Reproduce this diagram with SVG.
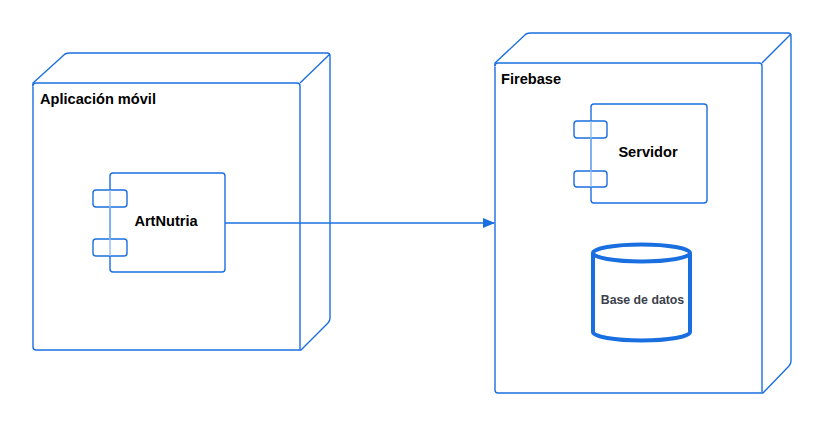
<svg xmlns="http://www.w3.org/2000/svg" width="824" height="427" viewBox="0 0 824 427">
<defs>
<style>
.ln{fill:#fff;stroke:#1a6fe0;stroke-width:1.4;stroke-linejoin:round}
.lbl{font-family:"Liberation Sans",Arial,sans-serif;font-weight:bold;font-size:14.6px;fill:#000}
.db{fill:#fff;stroke:#1a6fe0;stroke-width:4}
</style>
<marker id="ah" markerWidth="12" markerHeight="10" refX="11" refY="5" orient="auto" markerUnits="userSpaceOnUse">
<path d="M0,0 L12,5 L0,10 Z" fill="#1a6fe0"/>
</marker>
</defs>
<g id="node-app">
<path class="ln" d="M33,83 L65,54 Q67,53 70,53 L327,53 Q330,53 330,56 L330,318 Q330,321 328,323 L301,350 L36,350 Q33,350 33,347 Z"/>
<path class="ln" d="M33,86 Q33,83 36,83 L297,83 Q300,83 300,86 L300,350 M300,83 L330,54" fill="none"/>
<text class="lbl" x="40" y="104">Aplicación móvil</text>
</g>
<g id="node-firebase">
<path class="ln" d="M495,63 L526,34 Q528,33 531,33 L788,33 Q791,33 791,36 L791,361 Q791,364 789,366 L763,393 L498,393 Q495,393 495,390 Z"/>
<path class="ln" d="M495,66 Q495,63 498,63 L759,63 Q762,63 762,66 L762,393 M762,63 L791,34" fill="none"/>
<text class="lbl" x="501" y="84">Firebase</text>
</g>
<g id="comp-artnutria">
<rect class="ln" x="110" y="173" width="115" height="99" rx="3"/>
<rect class="ln" x="93" y="190" width="34" height="17" rx="3"/>
<rect class="ln" x="93" y="239" width="34" height="17" rx="3"/>
<line x1="110" y1="190" x2="110" y2="256" stroke="#8fbcf2" stroke-width="1.4"/>
<text class="lbl" x="166" y="226" text-anchor="middle">ArtNutria</text>
</g>
<g id="comp-servidor">
<rect class="ln" x="591" y="104" width="116" height="99" rx="3"/>
<rect class="ln" x="574" y="121" width="33" height="17" rx="3"/>
<rect class="ln" x="574" y="171" width="33" height="16" rx="3"/>
<line x1="591" y1="121" x2="591" y2="187" stroke="#8fbcf2" stroke-width="1.4"/>
<text class="lbl" x="648" y="157" text-anchor="middle">Servidor</text>
</g>
<g id="db-base">
<path class="db" d="M593,253 L593,332 A48.5,8.5 0 0 0 690,332 L690,253"/>
<ellipse class="db" cx="641.5" cy="253" rx="48.5" ry="8.5"/>
<text x="642.5" y="304" text-anchor="middle" font-family="'Liberation Sans',Arial,sans-serif" font-weight="bold" font-size="12.3" fill="#3a414a">Base de datos</text>
</g>
<g id="connectors">
<line x1="225" y1="223" x2="494" y2="223" stroke="#1a6fe0" stroke-width="1.3" marker-end="url(#ah)"/>
</g>
</svg>
